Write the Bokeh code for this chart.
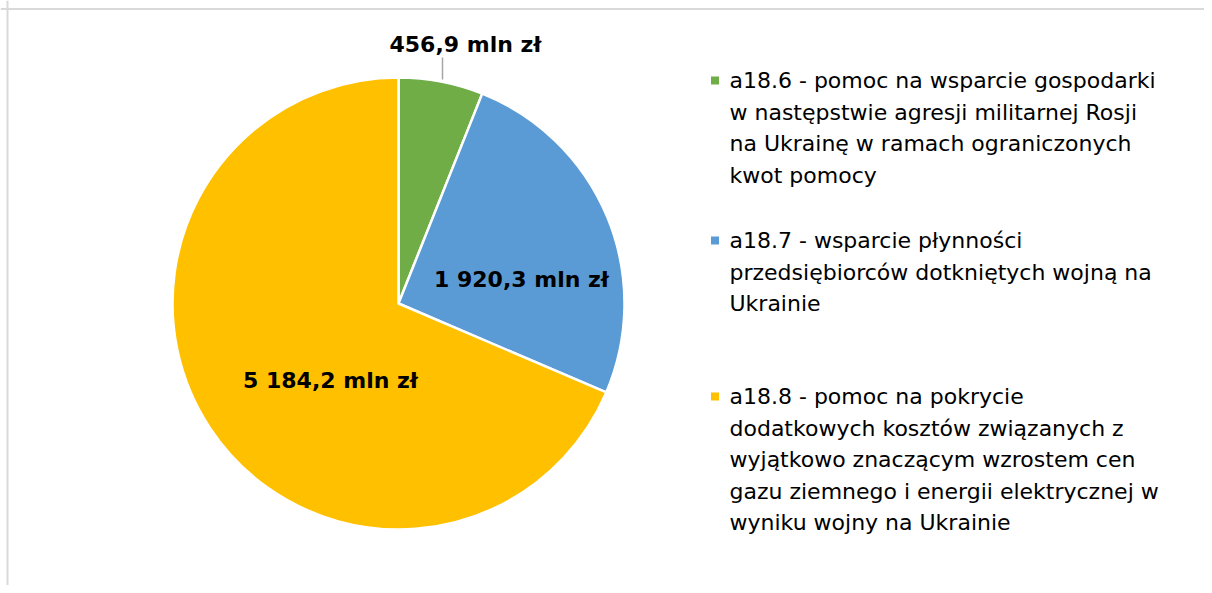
import math
from bokeh.plotting import figure
from bokeh.models import Range1d, Span, ColumnDataSource
from bokeh.core.properties import value
from bokeh.embed import file_html
from bokeh.resources import INLINE

# ---- data ----
categories = ["a18.6", "a18.7", "a18.8"]
values_mln = [456.9, 1920.3, 5184.2]
value_labels = ["456,9 mln zł", "1 920,3 mln zł", "5 184,2 mln zł"]
legend_lines = [
    ["a18.6 - pomoc na wsparcie gospodarki",
     "w następstwie agresji militarnej Rosji",
     "na Ukrainę w ramach ograniczonych",
     "kwot pomocy"],
    ["a18.7 - wsparcie płynności",
     "przedsiębiorców dotkniętych wojną na",
     "Ukrainie"],
    ["a18.8 - pomoc na pokrycie",
     "dodatkowych kosztów związanych z",
     "wyjątkowo znaczącym wzrostem cen",
     "gazu ziemnego i energii elektrycznej w",
     "wyniku wojny na Ukrainie"],
]
colors = ["#70AD47", "#5B9BD5", "#FFC000"]

W, H = 1204, 585
FONT = "DejaVu Sans"

def px(x):  # screen px -> data x
    return x

def py(y):  # screen px -> data y
    return H - y

p = figure(width=W, height=H, x_range=Range1d(0, W), y_range=Range1d(0, H),
           output_backend="svg", toolbar_location=None, min_border=0)
p.axis.visible = False
p.grid.visible = False
p.outline_line_color = None
p.background_fill_color = "white"

# border (left/top visible)
p.add_layout(Span(location=7, dimension="height", line_color="#D9D9D9", line_width=2))
p.add_layout(Span(location=py(8.5), dimension="width", line_color="#D9D9D9", line_width=2))

# pie
total = sum(values_mln)
cx, cy, r = px(398), py(303), 226
starts, ends = [], []
acc = 0.0
for v in values_mln:
    starts.append(math.pi / 2 - acc / total * 2 * math.pi)
    acc += v
    ends.append(math.pi / 2 - acc / total * 2 * math.pi)
src = ColumnDataSource(dict(start=starts, end=ends, color=colors, cat=categories))
p.wedge(x=cx, y=cy, radius=r, start_angle="start", end_angle="end",
        direction="clock", fill_color="color", line_color="white", line_width=2.5,
        source=src)

# leader line for small slice
p.segment(x0=px(442), y0=py(57), x1=px(442), y1=py(79), line_color="#A6A6A6", line_width=1.5)

# data labels
label_pos = [(465, 44), (521, 279), (330, 380)]
for (lx, ly), t in zip(label_pos, value_labels):
    p.text(x=[px(lx)], y=[py(ly)], text=[t], text_font=value(FONT),
           text_font_size="22px", text_font_style="bold", text_color="#000000",
           text_align="center", text_baseline="middle")

# legend
leg_top = [80, 240, 396]
line_h = 31.6
for i, lines in enumerate(legend_lines):
    y0 = leg_top[i]
    p.rect(x=[px(714.5)], y=[py(y0)], width=8, height=8, fill_color=colors[i],
           line_color=None)
    for j, ln in enumerate(lines):
        p.text(x=[px(729)], y=[py(y0 + j * line_h)], text=[ln], text_font=value(FONT),
               text_font_size="22px", text_color="#000000",
               text_align="left", text_baseline="middle")

open("out.html", "w").write(file_html(p, INLINE))
